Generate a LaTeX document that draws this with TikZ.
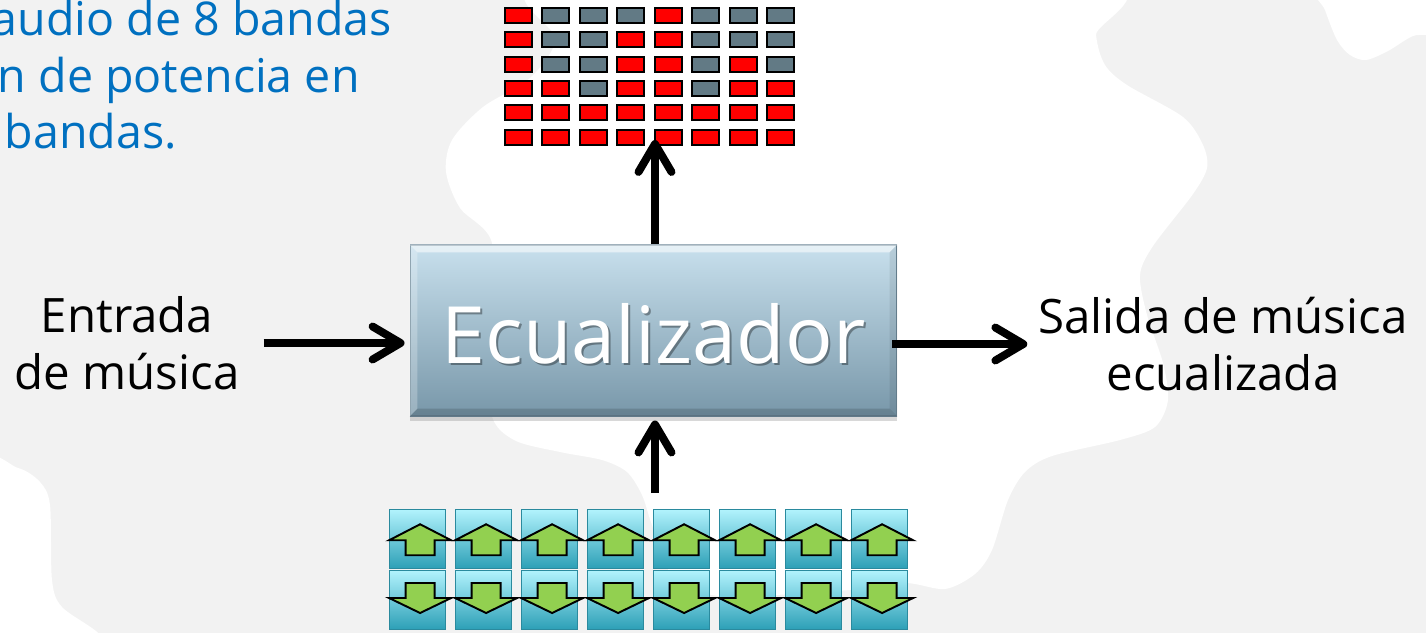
\documentclass[tikz,border=0pt]{standalone}
\usepackage{fontspec}
\setmainfont{Open Sans}
\usetikzlibrary{arrows.meta,shadows}

\definecolor{fondo}{HTML}{F2F2F2}
\definecolor{azultexto}{HTML}{0070C0}
\definecolor{ledrojo}{HTML}{FF0000}
\definecolor{ledgris}{HTML}{627A85}
\definecolor{eqarriba}{HTML}{C8E0ED}
\definecolor{eqabajo}{HTML}{7897A9}
\definecolor{eqborde}{HTML}{6C8797}
\definecolor{botonarriba}{HTML}{B2F3FD}
\definecolor{botonmedio}{HTML}{66D0E4}
\definecolor{botonabajo}{HTML}{2C9FB6}
\definecolor{botonborde}{HTML}{2A8A9E}
\definecolor{verde}{HTML}{92D050}

\tikzset{
  flecha/.style={line width=4.5pt,-{Straight Barb[length=5.6mm,width=6.6mm,round]}},
  led/.style={draw=black,line width=1.1pt,minimum width=0.54cm,minimum height=0.30cm,inner sep=0pt},
  caja/.style={draw=eqborde,line width=0.6pt,top color=eqarriba,bottom color=eqabajo,
    minimum width=9.74cm,minimum height=3.42cm,inner sep=0pt},
  boton/.style={draw=botonborde,line width=0.5pt,top color=botonarriba,middle color=botonmedio,
    bottom color=botonabajo,minimum width=1.12cm,minimum height=1.19cm,inner sep=0pt},
  tecla/.style={draw=black,line width=1.1pt,fill=verde,line join=miter},
  rotulo/.style={font=\fontsize{27}{32.4}\selectfont,align=center},
  nota/.style={font=\fontsize{26.5}{32.4}\selectfont,text=azultexto,inner sep=0pt,anchor=base east}
}

\begin{document}
\begin{tikzpicture}[x=0.02cm,y=-0.02cm]
    \useasboundingbox (0,0) rectangle (1426,633);
    \clip (0,0) rectangle (1426,633);

    % fondo
    \fill[fondo] (0,0) rectangle (1426,633);
    \fill[white] plot[smooth cycle,tension=.5] coordinates {(556,-20) (556,40) (530,78) (483,107)
      (452,140) (446,172) (460,208) (492,243) (488,330) (491,413) (514,440) (560,452) (602,460)
      (627,472) (642,495) (652,525) (672,575) (720,596) (850,590) (905,583) (945,589) (975,574)
      (992,550) (1008,500) (1025,472) (1052,456) (1120,440) (1155,427) (1168,400) (1163,363)
      (1147,315) (1140,275) (1153,246) (1193,194) (1207,168) (1203,145) (1183,117) (1127,85)
      (1105,65) (1096,35) (1095,-20)};
    \fill[white] plot[smooth cycle,tension=.5] coordinates {(1316,-20) (1325,10) (1337,40)
      (1350,55) (1366,60) (1388,51) (1413,36) (1440,30) (1450,-20)};
    \fill[white] plot[smooth cycle,tension=.5] coordinates {(-20,467) (18,468) (40,482) (50,505)
      (52,580) (62,607) (100,635) (100,660) (-20,660)};

    % texto azul
    \node[nota] (nota1) at (392,35) {audio de 8 bandas};
    \node[nota] (nota2) at (360,92) {n de potencia en};
    \node[nota] (nota3) at (177,148) {bandas.};

    % vumetro: alturas de las 8 columnas
    \foreach \h [count=\c] in {6,3,2,5,6,2,4,3} {
      \foreach \r in {1,...,6} {
        \ifnum\r>\h \def\tono{ledgris}\else \def\tono{ledrojo}\fi
        \node[led,fill=\tono] (led-\c-\r) at ({518.2+(\c-1)*37.5},{137.2-(\r-1)*24.35}) {};
      }
    }
    \coordinate (vu) at (655,140);

    % ecualizador
    \node[caja,drop shadow={opacity=.3,shadow xshift=0pt,shadow yshift=-3pt}] (eq) at (653.5,330.5) {};
    \fill[white,opacity=.55] (eq.north west) -- (eq.north east) -- ([xshift=-4.5pt,yshift=-4.5pt]eq.north east)
      -- ([xshift=4.5pt,yshift=-4.5pt]eq.north west) -- cycle;
    \fill[white,opacity=.25] (eq.north west) -- ([xshift=4.5pt,yshift=-4.5pt]eq.north west)
      -- ([xshift=4.5pt,yshift=4.5pt]eq.south west) -- (eq.south west) -- cycle;
    \fill[black,opacity=.14] (eq.south west) -- (eq.south east) -- ([xshift=-4.5pt,yshift=4.5pt]eq.south east)
      -- ([xshift=4.5pt,yshift=4.5pt]eq.south west) -- cycle;
    \fill[black,opacity=.08] (eq.north east) -- ([xshift=-4.5pt,yshift=-4.5pt]eq.north east)
      -- ([xshift=-4.5pt,yshift=4.5pt]eq.south east) -- (eq.south east) -- cycle;
    \node[font=\fontsize{45}{54}\selectfont,text=black,opacity=.35] at ([xshift=1.2pt,yshift=-3.2pt]eq.center) {Ecualizador};
    \node[font=\fontsize{45}{54}\selectfont,text=white] (eqtexto) at ([yshift=-2pt]eq.center) {Ecualizador};

    % entrada y salida
    \node[rotulo] (entrada) at (127,343) {Entrada\\de música};
    \node[rotulo] (salida) at (1223,344) {Salida de música\\ecualizada};

    % botones de ganancia
    \foreach \c in {1,...,8} {
      \node[boton] (sube-\c) at ({417.6+(\c-1)*66},539) {};
      \node[boton] (baja-\c) at ({417.6+(\c-1)*66},600) {};
      \begin{scope}[shift={(sube-\c.center)}]
        \draw[tecla] (2.5,-14.75) -- (33.5,1.25) -- (17,1.25) -- (17,16.25) -- (-12,16.25)
          -- (-12,1.25) -- (-28.5,1.25) -- cycle;
      \end{scope}
      \begin{scope}[shift={(baja-\c.center)}]
        \draw[tecla] (2.5,13) -- (33.5,-2) -- (17,-2) -- (17,-17) -- (-12,-17)
          -- (-12,-2) -- (-28.5,-2) -- cycle;
      \end{scope}
    }
    \coordinate (mandos) at (655,493);

    % conexiones
    \draw (entrada.east) edge[flecha,shorten <=0.36cm,shorten >=0.1cm] (entrada.east -| eq.west);
    \draw (salida.west -| eq.east) edge[flecha,shorten <=-0.1cm,shorten >=0.1cm] (salida.west);
    \draw (eq.north -| vu) edge[flecha] (vu);
    \draw (mandos) edge[flecha,shorten >=0.08cm] (mandos |- eq.south);
  \end{tikzpicture}
\end{document}
